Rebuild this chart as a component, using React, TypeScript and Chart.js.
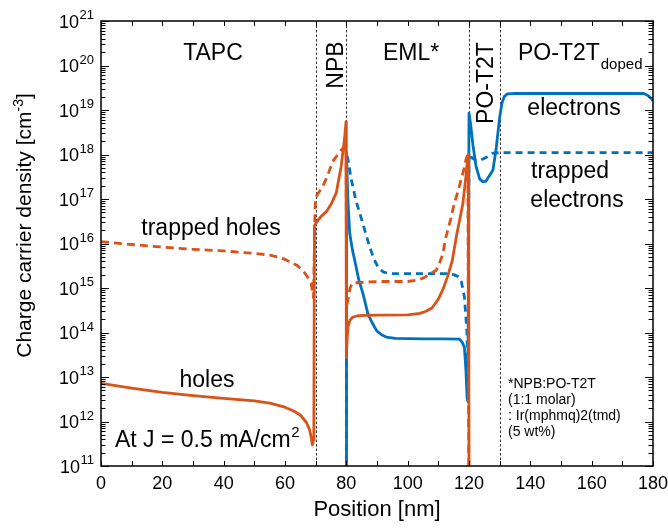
import React, { useEffect, useRef } from "react";
import { Chart, registerables } from "chart.js";

Chart.register(...registerables);

const FONT = "'Liberation Sans', Arial, Helvetica, sans-serif";
const ORANGE = "#D95319";
const BLUE = "#0072BD";

// Axis ticks
const xTicks = [0, 20, 40, 60, 80, 100, 120, 140, 160, 180];
const yTicks = [1e11, 1e12, 1e13, 1e14, 1e15, 1e16, 1e17, 1e18, 1e19, 1e20, 1e21];
// Layer boundaries (nm)
const layerBoundaries = [70, 80, 120, 130];

// holes (solid orange)
const holesX = [0, 10, 20, 30, 40, 50, 55, 60, 63, 65, 67, 68, 68.6, 68.9, 69.4, 69.6, 70, 71, 72, 73.5, 75, 76.7, 78.3, 79.4, 79.9, 80, 80.3, 80.6, 81.2, 82, 84, 90, 100, 104, 106, 108, 110, 111.5, 113, 114.5, 116, 117, 118, 119, 119.6, 119.9, 120];
const holesY = [7.2e12, 5.6e12, 4.5e12, 3.8e12, 3.3e12, 2.9e12, 2.6e12, 2.1e12, 1.7e12, 1.4e12, 9.5e11, 6.6e11, 4.2e11, 3.0e11, 4.0e11, 2.5e16, 2.8e16, 3.5e16, 4.2e16, 5.2e16, 7.6e16, 1.35e17, 5.4e17, 2.2e18, 5.5e18, 2.8e13, 7.9e13, 1.4e14, 1.9e14, 2.2e14, 2.4e14, 2.45e14, 2.5e14, 2.7e14, 3.0e14, 3.6e14, 5.6e14, 9.3e14, 1.8e15, 4.0e15, 1.6e16, 3.5e16, 7.9e16, 3.2e17, 8.9e17, 1.0e18, 1e10];

// trapped holes (dashed orange)
const trappedHolesX = [0, 10, 20, 30, 40, 50, 55, 59, 62, 64, 66, 67.5, 68.5, 69.3, 69.8, 70, 72.3, 74, 75.5, 77, 78.3, 79.4, 79.9, 80.1, 80.6, 81.2, 82, 90, 100, 103, 105, 107, 109.3, 110.3, 111.4, 112.5, 114, 115.2, 116.3, 117.4, 118.3, 119, 119.6, 120];
const trappedHolesY = [1.1e16, 9.5e15, 8.3e15, 7.4e15, 6.8e15, 6.0e15, 5.5e15, 4.7e15, 3.8e15, 3.2e15, 2.4e15, 1.7e15, 1.3e15, 6.0e14, 6.3e16, 1.1e17, 1.9e17, 3.5e17, 6.9e17, 9.5e17, 1.26e18, 1.5e18, 1.6e18, 4e14, 5.6e14, 1e15, 1.3e15, 1.4e15, 1.4e15, 1.5e15, 1.66e15, 2.0e15, 2.5e15, 3.5e15, 5.6e15, 1.4e16, 3.5e16, 7.9e16, 1.4e17, 2.7e17, 4.5e17, 7.6e17, 1.0e18, 1e10];

// electrons (solid blue)
const electronsX = [80, 80.05, 80.5, 81.1, 82, 82.7, 84, 85.4, 87, 88, 89, 90, 91.5, 93, 96, 105, 112, 116.9, 117.8, 118.5, 119, 119.4, 119.7, 120, 120.5, 121.3, 122.3, 123.5, 124.5, 125.5, 126.5, 127.8, 128.8, 129.9, 130.7, 131.5, 132.5, 135, 150, 170, 177, 178.5, 179.5, 180];
const electronsY = [1e10, 1.07e18, 1e17, 1.7e16, 7.1e15, 4.3e15, 1.6e15, 7.6e14, 2.7e14, 1.9e14, 1.4e14, 1.07e14, 8.9e13, 7.9e13, 7.4e13, 7.2e13, 7.2e13, 7.1e13, 6.0e13, 4.6e13, 1.45e13, 3.3e12, 2.8e12, 8.5e18, 5.0e18, 1.6e18, 5.4e17, 2.8e17, 2.45e17, 2.5e17, 3.2e17, 4.5e17, 1.26e18, 6.0e18, 1.4e19, 2.0e19, 2.3e19, 2.35e19, 2.35e19, 2.35e19, 2.35e19, 2.1e19, 1.8e19, 1.6e19];

// trapped electrons (dashed blue)
const trappedElectronsX = [80, 80.05, 80.5, 81.6, 83, 84.5, 86, 87.5, 89, 90.5, 92, 94, 100, 108, 113, 115, 116.5, 117.5, 118.5, 119.3, 119.7, 120, 121, 122.3, 124, 126, 127.8, 130, 180];
const trappedElectronsY = [1e10, 1.07e18, 7.9e17, 2.8e17, 1e17, 4.5e16, 2.0e16, 8.9e15, 4.5e15, 2.8e15, 2.3e15, 2.1e15, 2.1e15, 2.1e15, 2.1e15, 2.0e15, 1.8e15, 1.4e15, 6.3e14, 1.15e14, 1e13, 1.07e18, 8.3e17, 7.4e17, 7.6e17, 8.9e17, 1.07e18, 1.1e18, 1.1e18];

const zip = (xs: number[], ys: number[]) => xs.map((x, i) => ({ x, y: ys[i] }));

const decorPlugin = {
  id: "decor",
  beforeDatasetsDraw(chart: any) {
    const { ctx, chartArea: a, scales } = chart;
    const x = scales.x;
    ctx.save();
    ctx.strokeStyle = "#333";
    ctx.lineWidth = 1;
    ctx.setLineDash([2.5, 2]);
    for (const b of layerBoundaries) {
      const px = Math.round(x.getPixelForValue(b)) + 0.5;
      ctx.beginPath();
      ctx.moveTo(px, a.top);
      ctx.lineTo(px, a.bottom);
      ctx.stroke();
    }
    ctx.restore();
  },
  afterDatasetsDraw(chart: any) {
    const { ctx, chartArea: a, scales } = chart;
    const x = scales.x;
    const y = scales.y;
    ctx.save();
    ctx.strokeStyle = "#000";
    ctx.lineWidth = 1;
    ctx.setLineDash([]);
    // x ticks (bottom + top), every 10 nm
    for (let v = 0; v <= 180; v += 10) {
      const px = Math.round(x.getPixelForValue(v)) + 0.5;
      ctx.beginPath();
      ctx.moveTo(px, a.bottom);
      ctx.lineTo(px, a.bottom - 5);
      ctx.moveTo(px, a.top);
      ctx.lineTo(px, a.top + 5);
      ctx.stroke();
    }
    // y ticks (left + right), major + minor
    for (let d = 11; d <= 21; d++) {
      for (let m = 1; m <= 9; m++) {
        const v = m * Math.pow(10, d);
        if (v > 1e21 * 1.0001) break;
        const py = Math.round(y.getPixelForValue(v)) + 0.5;
        const len = m === 1 ? 8 : 4.5;
        ctx.beginPath();
        ctx.moveTo(a.left, py);
        ctx.lineTo(a.left + len, py);
        ctx.moveTo(a.right, py);
        ctx.lineTo(a.right - len, py);
        ctx.stroke();
      }
    }
    // frame
    ctx.lineWidth = 1.5;
    ctx.strokeRect(a.left, a.top, a.right - a.left, a.bottom - a.top);

    ctx.fillStyle = "#000";
    const put = (s: string, px: number, py: number, font: string, align: CanvasTextAlign = "center") => {
      ctx.font = font;
      ctx.textAlign = align;
      ctx.textBaseline = "alphabetic";
      ctx.fillText(s, px, py);
    };

    // y tick labels: 10 with superscript exponent
    const tenFont = `18px ${FONT}`;
    const expFont = `13px ${FONT}`;
    for (const v of yTicks) {
      const py = y.getPixelForValue(v);
      const e = String(Math.round(Math.log10(v)));
      ctx.font = expFont;
      const ew = ctx.measureText(e).width;
      const right = a.left - 7;
      put(e, right, py - 2, expFont, "right");
      put("10", right - ew - 0.5, py + 6.5, tenFont, "right");
    }

    // y axis title (rotated) with superscript
    {
      const tf = `21px ${FONT}`;
      const sf = `14px ${FONT}`;
      const p1 = "Charge carrier density [cm";
      const p2 = "-3";
      const p3 = "]";
      ctx.font = tf;
      const w1 = ctx.measureText(p1).width;
      const w3 = ctx.measureText(p3).width;
      ctx.font = sf;
      const w2 = ctx.measureText(p2).width;
      const total = w1 + w2 + w3;
      ctx.save();
      ctx.translate(31, (a.top + a.bottom) / 2 - 18);
      ctx.rotate(-Math.PI / 2);
      let cx = -total / 2;
      put(p1, cx, 0, tf, "left");
      cx += w1;
      put(p2, cx, -8, sf, "left");
      cx += w2;
      put(p3, cx, 0, tf, "left");
      ctx.restore();
    }

    // annotations
    const big = `23px ${FONT}`;
    put("TAPC", 213, 60, big);
    put("EML*", 411, 60, big);
    ctx.font = big;
    const w = ctx.measureText("PO-T2T").width;
    put("PO-T2T", 518, 60, big, "left");
    put("doped", 518 + w + 1, 69, `15px ${FONT}`, "left");

    const rot = (s: string, px: number, py: number) => {
      ctx.save();
      ctx.translate(px, py);
      ctx.rotate(-Math.PI / 2);
      put(s, 0, 0, big);
      ctx.restore();
    };
    rot("NPB", 343, 65);
    rot("PO-T2T", 493, 83);

    put("electrons", 574, 115, big);
    put("trapped", 570, 178, big);
    put("electrons", 577, 207, big);
    put("trapped holes", 211, 235, big);
    put("holes", 207, 387, big);
    {
      const s1 = "At J = 0.5 mA/cm";
      ctx.font = big;
      const w1 = ctx.measureText(s1).width;
      put(s1, 115, 447, big, "left");
      put("2", 115 + w1 + 0.5, 437, `15px ${FONT}`, "left");
    }

    const small = `14px ${FONT}`;
    put("*NPB:PO-T2T", 508, 388, small, "left");
    put("(1:1 molar)", 508, 404, small, "left");
    put(": Ir(mphmq)2(tmd)", 508, 420, small, "left");
    put("(5 wt%)", 508, 436, small, "left");
    ctx.restore();
  },
};

export default function App() {
  const ref = useRef<HTMLCanvasElement | null>(null);
  useEffect(() => {
    if (!ref.current) return;
    const lineDefaults = {
      pointRadius: 0,
      pointHoverRadius: 0,
      borderWidth: 2.8,
      fill: false,
      tension: 0,
      borderJoinStyle: "round" as const,
      borderCapStyle: "butt" as const,
    };
    const chart = new Chart(ref.current, {
      type: "line",
      data: {
        datasets: [
          { ...lineDefaults, label: "holes", data: zip(holesX, holesY), borderColor: ORANGE, order: 0 },
          { ...lineDefaults, label: "trapped holes", data: zip(trappedHolesX, trappedHolesY), borderColor: ORANGE, borderDash: [8, 5], order: 1 },
          { ...lineDefaults, label: "electrons", data: zip(electronsX, electronsY), borderColor: BLUE, order: 2 },
          { ...lineDefaults, label: "trapped electrons", data: zip(trappedElectronsX, trappedElectronsY), borderColor: BLUE, borderDash: [7, 5], order: 3 },
        ],
      },
      options: {
        animation: false,
        responsive: false,
        events: [],
        layout: { padding: { top: 21, right: 15, left: 0, bottom: 0 } },
        plugins: { legend: { display: false }, tooltip: { enabled: false }, title: { display: false } },
        scales: {
          x: {
            type: "linear",
            min: 0,
            max: 180,
            afterBuildTicks: (s: any) => {
              s.ticks = xTicks.map((v) => ({ value: v }));
            },
            afterFit: (s: any) => {
              s.height = 62;
              s.paddingLeft = 0;
              s.paddingRight = 0;
            },
            grid: { display: false, drawTicks: false },
            border: { display: false },
            ticks: {
              font: { family: FONT, size: 18 },
              color: "#000",
              padding: 7,
              maxRotation: 0,
              autoSkip: false,
            },
            title: {
              display: true,
              text: "Position [nm]",
              font: { family: FONT, size: 22 },
              color: "#000",
              padding: { top: 0, bottom: 5 },
            },
          },
          y: {
            type: "logarithmic",
            min: 1e11,
            max: 1e21,
            afterBuildTicks: (s: any) => {
              s.ticks = yTicks.map((v) => ({ value: v }));
            },
            afterFit: (s: any) => {
              s.width = 101;
              s.paddingTop = 0;
              s.paddingBottom = 0;
            },
            grid: { display: false, drawTicks: false },
            border: { display: false },
            ticks: { display: false },
            title: { display: false },
          },
        },
      },
      plugins: [decorPlugin],
    });
    return () => chart.destroy();
  }, []);
  return (
    <div style={{ position: "absolute", left: 0, top: 0, width: 668, height: 528, background: "#fff" }}>
      <canvas ref={ref} width={668} height={528} style={{ display: "block" }} />
    </div>
  );
}
